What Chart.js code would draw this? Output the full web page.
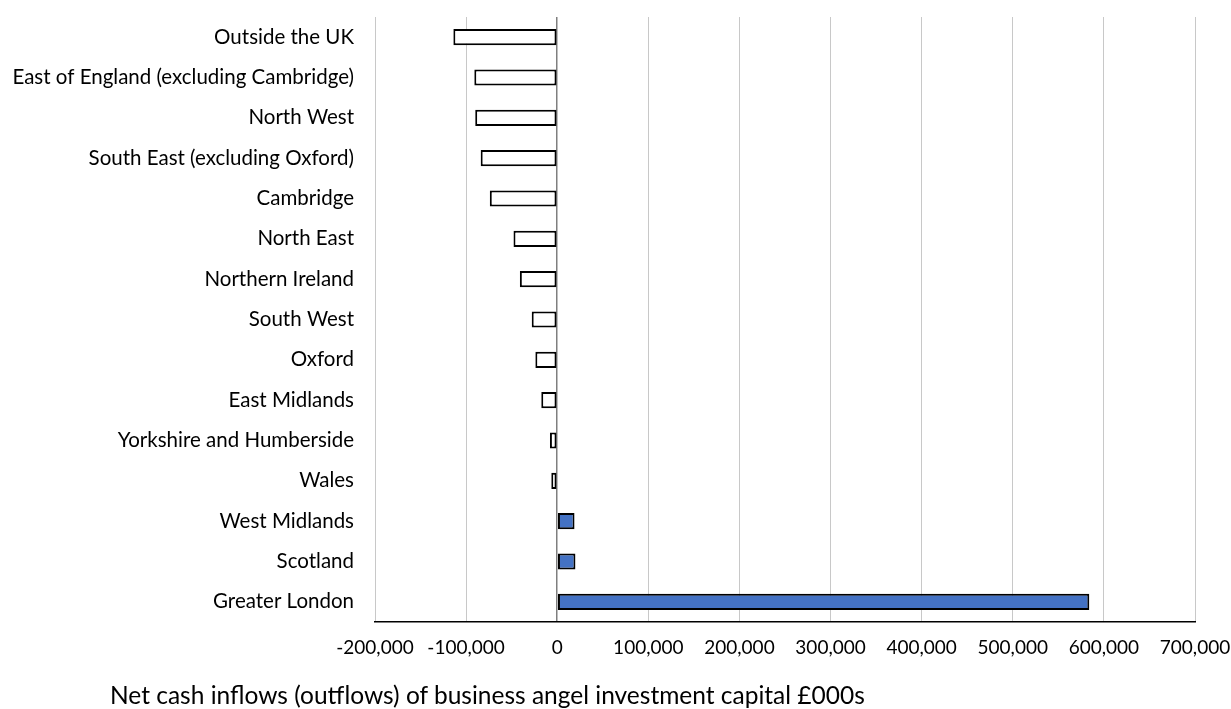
<!DOCTYPE html>
<html>
<head>
<meta charset="utf-8">
<script src="https://cdn.jsdelivr.net/npm/chart.js@4.4.1/dist/chart.umd.min.js"></script>
<style>
    html, body { margin: 0; padding: 0; background: #fff; }
    #wrap { position: relative; width: 1231px; height: 709px; }
    #caption {
        position: absolute; left: 110px; top: 680px;
        font-family: Lato, sans-serif; font-size: 24.5px; color: #000;
        white-space: nowrap;
    }
</style>
</head>
<body>
<div id="wrap">
    <canvas id="flowsChart" width="1231" height="709"></canvas>
    <div id="caption">Net cash inflows (outflows) of business angel investment capital £000s</div>
</div>
<script>
const regions = [
    'Outside the UK',
    'East of England (excluding Cambridge)',
    'North West',
    'South East (excluding Oxford)',
    'Cambridge',
    'North East',
    'Northern Ireland',
    'South West',
    'Oxford',
    'East Midlands',
    'Yorkshire and Humberside',
    'Wales',
    'West Midlands',
    'Scotland',
    'Greater London'
];
const netFlows = [-114000, -91000, -90000, -84000, -74000, -48000, -41000, -28000, -24000, -17500, -8000, -6500, 19000, 20000, 584000];
const axisMin = -200000;
const axisMax = 700000;
const axisStep = 100000;

const ctx = document.getElementById('flowsChart').getContext('2d');
new Chart(ctx, {
    type: 'bar',
    data: {
        labels: regions,
        datasets: [{
            label: 'Net cash flow',
            data: netFlows,
            backgroundColor: netFlows.map(v => v >= 0 ? '#4472C4' : '#ffffff'),
            borderColor: '#000000',
            borderWidth: 2,
            borderSkipped: false,
            categoryPercentage: 1,
            barPercentage: 0.4
        }]
    },
    options: {
        indexAxis: 'y',
        responsive: false,
        animation: false,
        layout: { padding: { top: 17, right: 0, left: 0, bottom: 0 } },
        scales: {
            x: {
                min: axisMin,
                max: axisMax,
                ticks: {
                    stepSize: axisStep,
                    padding: 14,
                    color: '#000',
                    font: { family: 'Lato', size: 19 },
                    maxRotation: 0,
                    callback: v => v.toLocaleString('en-US')
                },
                grid: {
                    drawTicks: false,
                    color: ctx => ctx.tick && ctx.tick.value === 0 ? '#7f7f7f' : '#c8c8c8',
                    lineWidth: ctx => ctx.tick && ctx.tick.value === 0 ? 1.5 : 1
                },
                border: { display: true, color: '#000', width: 1.5 },
                afterFit: scale => {
                    scale.height = 87;
                    scale.paddingLeft = 0;
                    scale.paddingRight = 36;
                }
            },
            y: {
                ticks: {
                    padding: 21,
                    color: '#000',
                    font: { family: 'Lato', size: 20.5 }
                },
                grid: { display: false, drawTicks: false },
                border: { display: false },
                afterFit: scale => {
                    scale.width = 375;
                    scale.paddingTop = 0;
                    scale.paddingBottom = 0;
                }
            }
        },
        plugins: {
            legend: { display: false },
            tooltip: { enabled: false }
        }
    }
});
</script>
</body>
</html>
